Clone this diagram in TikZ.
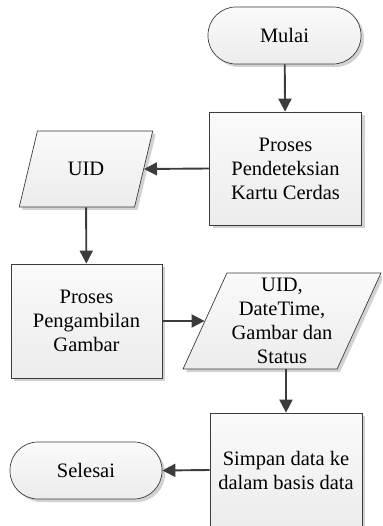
\documentclass[tikz,border=0pt]{standalone}
\usepackage{fontspec}
\setmainfont{Liberation Serif}
\usetikzlibrary{arrows.meta,shapes.geometric,shadows}
\definecolor{edge}{HTML}{3C3C3C}
\definecolor{fillhi}{HTML}{FAFAFA}
\definecolor{filllo}{HTML}{ECECEC}
\tikzset{
  chartnode/.style={draw=edge, line width=0.7pt, top color=fillhi, bottom color=filllo,
    inner sep=0pt, align=center, font=\fontsize{20.5}{24}\selectfont,
    drop shadow={shadow xshift=3pt, shadow yshift=-3pt, fill=black!22, opacity=0.8}},
  procbox/.style={chartnode, rectangle, minimum width=152pt, minimum height=114pt},
  terminal/.style={chartnode, rectangle, rounded corners=28pt, minimum width=153pt, minimum height=57pt},
  iobox/.style={chartnode, trapezium, trapezium stretches=true,
    trapezium left angle=#1, trapezium right angle={180-#1}},
  flow/.style={draw=edge, line width=1.9pt, -{Triangle[length=13pt,width=13pt]}},
}
\begin{document}
\begin{tikzpicture}[x=1pt, y=-1pt]
  \useasboundingbox (0,0) rectangle (382,526);
  \clip (0,0) rectangle (382,526);

  \node[terminal] (mulai) at (284.5,35.5) {Mulai};
  \node[procbox, minimum height=113pt] (detect) at (285.5,168.5) {Proses\\Pendeteksian\\Kartu Cerdas};
  \node[iobox=63.43, minimum width=134pt, minimum height=76pt] (uid) at (86,169) {UID};
  \node[procbox, minimum width=151pt] (capture) at (86.5,321) {Proses\\Pengambilan\\Gambar};
  \node[iobox=64.9, minimum width=198pt, minimum height=96pt] (record) at (282,321) {UID,\\DateTime,\\Gambar dan\\Status};
  \node[procbox] (store) at (286,470) {Simpan data ke\\dalam basis data};
  \node[terminal, minimum width=152pt] (selesai) at (86,470.5) {Selesai};

  \draw[flow] (mulai) -- (detect);
  \draw[flow] (detect.west) -- (uid.east);
  \draw[flow] (uid) -- (capture);
  \draw[flow] (capture.east) -- (record.west);
  \draw[flow] (record.south -| store.north) -- (store.north);
  \draw[flow] (store.west) -- (selesai.east);
\end{tikzpicture}
\end{document}
